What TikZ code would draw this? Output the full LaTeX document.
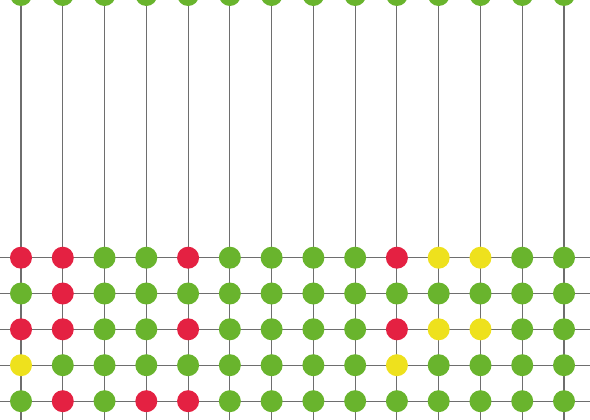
\documentclass[tikz,border=0pt]{standalone}
\usetikzlibrary{backgrounds}
\definecolor{cG}{HTML}{69B42D}
\definecolor{cR}{HTML}{E42142}
\definecolor{cY}{HTML}{EEE11D}
\definecolor{wire}{HTML}{6E6E6E}
\tikzset{
  dot/.style={circle,inner sep=0pt,minimum size=22pt,draw=none,fill=#1},
  wireline/.style={draw=wire,line width=1.1pt}
}
\begin{document}
\begin{tikzpicture}[x=1pt,y=-1pt]
\useasboundingbox (0,0) rectangle (590,420);
\def\dx{41.77}
% top row
\foreach \i in {0,...,13}{
  \node[dot=cG] (t-\i) at ({21+\dx*\i},-5) {};
  \coordinate (b-\i) at ({21+\dx*\i},420);
}
% grid rows
\foreach \r/\y/\cols in {
  1/257.7/{cR,cR,cG,cG,cR,cG,cG,cG,cG,cR,cY,cY,cG,cG},
  2/293.5/{cG,cR,cG,cG,cG,cG,cG,cG,cG,cG,cG,cG,cG,cG},
  3/329.3/{cR,cR,cG,cG,cR,cG,cG,cG,cG,cR,cY,cY,cG,cG},
  4/365.2/{cY,cG,cG,cG,cG,cG,cG,cG,cG,cY,cG,cG,cG,cG},
  5/401.2/{cG,cR,cG,cR,cR,cG,cG,cG,cG,cG,cG,cG,cG,cG}}{
  \coordinate (l-\r) at (0,\y);
  \coordinate (r-\r) at (590,\y);
  \foreach \c [count=\k from 0] in \cols {
    \node[dot=\c] (n-\r-\k) at ({21+\dx*\k},\y) {};
  }
}
\begin{scope}[on background layer]
\foreach \i in {0,...,13}{
  \draw[wireline] (t-\i.center) -- (b-\i);
}
\foreach \r in {1,...,5}{
  \draw[wireline] (l-\r) -- (r-\r);
}
\end{scope}
\end{tikzpicture}
\end{document}
